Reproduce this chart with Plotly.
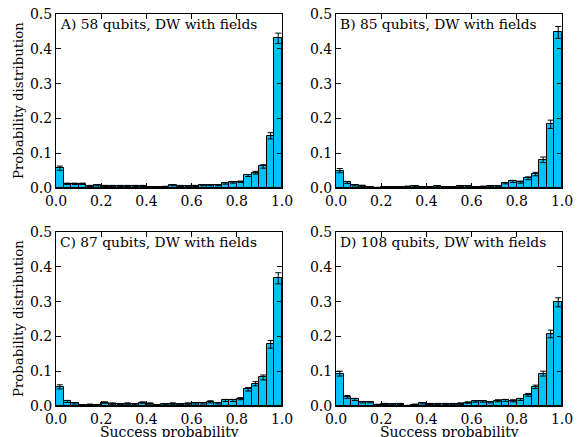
import plotly.graph_objects as go

# 30 bins over success probability [0, 1]
n_bins = 30
bin_edges_left = [i / n_bins for i in range(n_bins)]

titles = ["A) 58 qubits, DW with fields", "B) 85 qubits, DW with fields",
          "C) 87 qubits, DW with fields", "D) 108 qubits, DW with fields"]

vals_A = [0.057, 0.012, 0.012, 0.012, 0.006, 0.008, 0.006, 0.006, 0.006, 0.006,
          0.006, 0.006, 0.003, 0.003, 0.004, 0.008, 0.006, 0.005, 0.006, 0.008,
          0.008, 0.008, 0.013, 0.016, 0.018, 0.036, 0.044, 0.062, 0.150, 0.430]
err_A = [0.006, 0.002, 0.002, 0.002, 0.0015, 0.0015, 0.0015, 0.0015, 0.0015, 0.0015,
         0.0015, 0.0015, 0.001, 0.001, 0.001, 0.0015, 0.0015, 0.0015, 0.0015, 0.0015,
         0.0015, 0.0015, 0.002, 0.002, 0.002, 0.003, 0.004, 0.005, 0.009, 0.015]

vals_B = [0.050, 0.016, 0.008, 0.006, 0.002, 0.001, 0.002, 0.002, 0.002, 0.004,
          0.005, 0.002, 0.002, 0.005, 0.003, 0.002, 0.005, 0.005, 0.002, 0.004,
          0.005, 0.005, 0.014, 0.019, 0.017, 0.028, 0.040, 0.081, 0.183, 0.447]
err_B = [0.006, 0.003, 0.002, 0.002, 0.001, 0.001, 0.001, 0.001, 0.001, 0.0015,
         0.0015, 0.001, 0.001, 0.0015, 0.001, 0.001, 0.0015, 0.0015, 0.001, 0.0015,
         0.0015, 0.0015, 0.002, 0.003, 0.003, 0.004, 0.005, 0.008, 0.012, 0.017]

vals_C = [0.055, 0.013, 0.008, 0.002, 0.004, 0.003, 0.010, 0.007, 0.006, 0.007,
          0.005, 0.010, 0.007, 0.002, 0.005, 0.007, 0.005, 0.007, 0.008, 0.008,
          0.012, 0.008, 0.016, 0.016, 0.021, 0.048, 0.064, 0.082, 0.177, 0.367]
err_C = [0.006, 0.003, 0.002, 0.001, 0.0015, 0.0015, 0.002, 0.002, 0.0015, 0.002,
         0.0015, 0.002, 0.002, 0.001, 0.0015, 0.002, 0.0015, 0.002, 0.002, 0.002,
         0.003, 0.002, 0.003, 0.003, 0.003, 0.005, 0.006, 0.007, 0.011, 0.016]

vals_D = [0.093, 0.026, 0.019, 0.011, 0.011, 0.004, 0.006, 0.005, 0.006, 0.001,
          0.004, 0.008, 0.006, 0.006, 0.006, 0.006, 0.007, 0.010, 0.013, 0.013,
          0.011, 0.015, 0.016, 0.015, 0.019, 0.032, 0.055, 0.093, 0.207, 0.298]
err_D = [0.007, 0.004, 0.003, 0.002, 0.002, 0.001, 0.0015, 0.0015, 0.0015, 0.001,
         0.0015, 0.002, 0.0015, 0.0015, 0.0015, 0.0015, 0.002, 0.002, 0.002, 0.002,
         0.002, 0.003, 0.003, 0.003, 0.003, 0.004, 0.005, 0.007, 0.011, 0.013]

x_ticks = [0.0, 0.2, 0.4, 0.6, 0.8, 1.0]
x_ticklabels = ["0.0", "0.2", "0.4", "0.6", "0.8", "1.0"]
y_ticks = [0.0, 0.1, 0.2, 0.3, 0.4, 0.5]
y_ticklabels = ["0.0", "0.1", "0.2", "0.3", "0.4", "0.5"]

W, H = 580, 437
FONT = "DejaVu Serif"
BAR_COLOR = "#00c1f8"

# pixel boxes of the four panels (left, right, top, bottom)
boxes = [(56, 282, 14, 188), (336, 562, 14, 188),
         (56, 282, 232, 406), (336, 562, 232, 406)]

all_vals = [vals_A, vals_B, vals_C, vals_D]
all_errs = [err_A, err_B, err_C, err_D]

fig = go.Figure()
centers = [e + 0.5 / n_bins for e in bin_edges_left]

for k in range(4):
    sfx = "" if k == 0 else str(k + 1)
    fig.add_trace(go.Bar(
        x=centers, y=all_vals[k], width=1.0 / n_bins,
        marker=dict(color=BAR_COLOR, line=dict(color="black", width=1)),
        error_y=dict(type="data", array=all_errs[k], color="black",
                     thickness=1, width=3, visible=True),
        xaxis="x" + sfx, yaxis="y" + sfx, showlegend=False,
    ))
    l, r, t, b = boxes[k]
    axis_common = dict(showline=True, linecolor="black", linewidth=1,
                       mirror="ticks", ticks="inside", ticklen=5,
                       tickcolor="black", showgrid=False, zeroline=False,
                       automargin=False, ticklabelstandoff=0,
                       tickfont=dict(family=FONT, size=14, color="black"))
    fig.update_layout(**{
        "xaxis" + sfx: dict(domain=[l / W, r / W], range=[0, 1],
                            anchor="y" + sfx, tickvals=x_ticks,
                            ticktext=x_ticklabels, **axis_common),
        "yaxis" + sfx: dict(domain=[(H - b) / H, (H - t) / H], range=[0, 0.5],
                            anchor="x" + sfx, tickvals=y_ticks,
                            ticktext=y_ticklabels, **axis_common),
    })
    fig.add_annotation(text=titles[k], xref="paper", yref="paper",
                       x=(l + 2) / W, y=(H - t) / H, xanchor="left",
                       yanchor="top", showarrow=False,
                       font=dict(family=FONT, size=13.8, color="black"))

# axis titles
for (l, r, t, b) in [boxes[0], boxes[2]]:
    fig.add_annotation(text="Probability distribution", xref="paper",
                       yref="paper", x=18 / W, y=(H - (t + b) / 2) / H,
                       xanchor="center", yanchor="middle", textangle=-90,
                       showarrow=False,
                       font=dict(family=FONT, size=13.3, color="black"))
for (l, r, t, b) in [boxes[2], boxes[3]]:
    fig.add_annotation(text="Success probability", xref="paper",
                       yref="paper", x=((l + r) / 2) / W, y=(H - 422) / H,
                       xanchor="center", yanchor="top", showarrow=False,
                       font=dict(family=FONT, size=14, color="black"))

fig.update_layout(width=W, height=H, margin=dict(l=0, r=0, t=0, b=0),
                  paper_bgcolor="white", plot_bgcolor="white",
                  bargap=0, barmode="overlay")

fig.write_html("out.html")
